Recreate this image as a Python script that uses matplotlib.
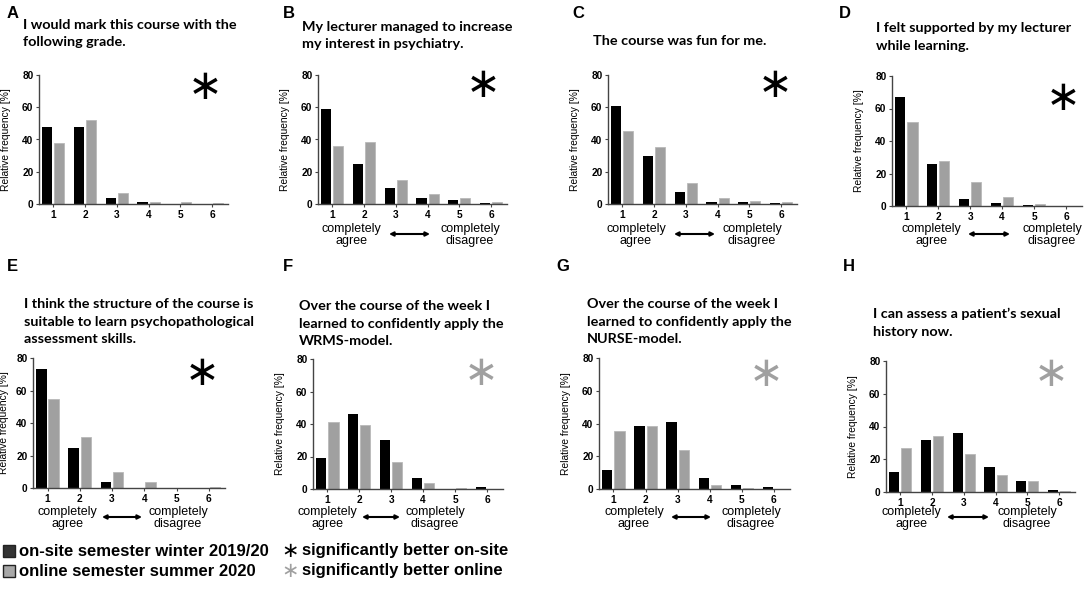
import matplotlib.pyplot as plt
import numpy as np
from matplotlib.patches import Rectangle

# answer categories 1..6
categories = np.arange(1, 7)

letters = ['A', 'B', 'C', 'D', 'E', 'F', 'G', 'H']
titles = [
    'I would mark this course with the\nfollowing grade.',
    'My lecturer managed to increase\nmy interest in psychiatry.',
    'The course was fun for me.',
    'I felt supported by my lecturer\nwhile learning.',
    'I think the structure of the course is\nsuitable to learn psychopathological\nassessment skills.',
    'Over the course of the week I\nlearned to confidently apply the\nWRMS-model.',
    'Over the course of the week I\nlearned to confidently apply the\nNURSE-model.',
    'I can assess a patient\u2019s sexual\nhistory now.',
]

# relative frequency [%], on-site winter 2019/20
onsite_A = [48, 47.5, 4, 1, 0, 0]
onsite_B = [59, 25, 10, 3.5, 2.5, 0.8]
onsite_C = [61, 29.5, 7.5, 1.5, 1.5, 0.8]
onsite_D = [67, 26, 4.5, 2, 0.8, 0]
onsite_E = [73, 24.5, 3.5, 0, 0, 0]
onsite_F = [19, 46, 30, 6.5, 0, 1]
onsite_G = [11.5, 38.5, 41, 7, 2.5, 1]
onsite_H = [12, 32, 36, 15, 6.5, 1]

# relative frequency [%], online summer 2020
online_A = [38, 52, 7, 1.5, 1.5, 0.5]
online_B = [36, 38.5, 15, 6, 4, 1.5]
online_C = [45.5, 35.5, 13, 3.5, 2, 1.5]
online_D = [52, 28, 14.5, 5.5, 1.5, 0]
online_E = [55, 31.5, 10, 3.5, 0, 0.7]
online_F = [41.5, 39.5, 16.5, 3.5, 0.5, 0]
online_G = [35.5, 38.5, 24, 2.5, 0.8, 0]
online_H = [27, 34.5, 23, 10.5, 6.5, 0.7]

onsite = [onsite_A, onsite_B, onsite_C, onsite_D, onsite_E, onsite_F, onsite_G, onsite_H]
online = [online_A, online_B, online_C, online_D, online_E, online_F, online_G, online_H]
better_online = [False, False, False, False, False, True, True, True]
has_scale = [False, True, True, True, True, True, True, True]

legend_labels = ['on-site semester winter 2019/20', 'online semester summer 2020']
star_labels = ['significantly better on-site', 'significantly better online']

BLACK = '#000000'
GRAY = '#a0a0a0'
W, H = 1084, 589

# layout in pixels
axes_box = [(39, 75, 228, 204), (318, 75, 507, 204), (608, 75, 797, 204), (892, 76, 1082, 206),
            (33, 358, 225, 488), (313, 359, 503, 489), (599, 358, 790, 489), (886, 361, 1075, 492)]
title_pos = [(23, 19), (302, 21), (593, 35), (876, 22), (24, 298), (299, 300), (587, 298), (873, 308)]
letter_pos = [(7, 6), (283, 6), (572, 6), (839, 6), (7, 259), (283, 259), (556, 259), (843, 259)]
star_pos = [(205, 87), (483, 85), (775, 85), (1063, 98), (202, 373), (481, 373), (766, 374), (1051, 374)]
scale_pos = [None, (351, 389, 430, 470), (636, 674, 715, 752), (931, 968, 1010, 1052),
             (67, 102, 142, 178), (327, 362, 400, 435), (634, 671, 711, 751), (911, 947, 989, 1027)]


def fx(x):
    return x / W


def fy(y):
    return 1 - y / H


fig = plt.figure(figsize=(W / 100, H / 100), dpi=100)

for i in range(8):
    l, t, r, b = axes_box[i]
    ax = fig.add_axes([fx(l), fy(b), (r - l) / W, (b - t) / H])
    ax.bar(categories - 0.19, onsite[i], 0.32, color=BLACK)
    ax.bar(categories + 0.19, online[i], 0.32, color=GRAY, edgecolor='#b9b9b9', linewidth=0.6)
    ax.set_xlim(0.55, 6.5)
    ax.set_ylim(0, 80)
    ax.set_yticks([0, 20, 40, 60, 80])
    ax.set_xticks(categories)
    for s in ['top', 'right']:
        ax.spines[s].set_visible(False)
    for s in ['left', 'bottom']:
        ax.spines[s].set_color('#444444')
        ax.spines[s].set_linewidth(1.0)
    ax.tick_params(length=2, width=0.8, color='#444444', pad=2)
    for lab in ax.get_xticklabels() + ax.get_yticklabels():
        lab.set_fontfamily('Liberation Sans')
        lab.set_fontweight('bold')
        lab.set_fontsize(7.3)
    ax.set_ylabel('Relative frequency [%]', fontfamily='Liberation Sans', fontsize=7.4)
    ax.yaxis.set_label_coords(-(l - max(l - 28, 9)) / (r - l), 0.5)

    fig.text(fx(title_pos[i][0]), fy(title_pos[i][1]), titles[i], ha='left', va='top',
             fontfamily='Lato', fontweight='bold', fontsize=10.4, linespacing=1.55)
    fig.text(fx(letter_pos[i][0]), fy(letter_pos[i][1]), letters[i], ha='left', va='top',
             fontfamily='Liberation Sans', fontweight='bold', fontsize=12)
    fig.text(fx(star_pos[i][0]), fy(star_pos[i][1]), '\u2217', ha='center', va='center',
             fontfamily='DejaVu Sans', fontsize=30,
             color=GRAY if better_online[i] else BLACK)

    if has_scale[i]:
        xa, x0, x1, xd = scale_pos[i]
        yc = 235 if i < 4 else 518
        fig.text(fx(xa), fy(yc), 'completely\nagree', ha='center', va='center',
                 fontfamily='Liberation Sans', fontsize=9, linespacing=1.1)
        fig.text(fx(xd), fy(yc), 'completely\ndisagree', ha='center', va='center',
                 fontfamily='Liberation Sans', fontsize=9, linespacing=1.1)
        fig.add_artist(plt.Annotation('', xy=(fx(x1), fy(yc - 1)), xytext=(fx(x0), fy(yc - 1)),
                                      xycoords='figure fraction', textcoords='figure fraction',
                                      arrowprops=dict(arrowstyle='<|-|>', color='black', lw=1.5,
                                                      mutation_scale=6, shrinkA=0, shrinkB=0)))

# legend
for k, (fc, ys) in enumerate([('#333333', 551), ('#a8a8a8', 571)]):
    fig.patches.append(Rectangle((fx(3), fy(ys + 6)), 12 / W, 12 / H, transform=fig.transFigure,
                                 facecolor=fc, edgecolor='#222222', linewidth=1.0))
    fig.text(fx(19), fy(ys), legend_labels[k], ha='left', va='center',
             fontfamily='Liberation Sans', fontweight='bold', fontsize=12)
    fig.text(fx(290), fy(ys), '\u2217', ha='center', va='center', fontfamily='DejaVu Sans',
             fontsize=15, color=BLACK if k == 0 else GRAY)
    fig.text(fx(302), fy(ys), star_labels[k], ha='left', va='center',
             fontfamily='Liberation Sans', fontweight='bold', fontsize=12)

fig.savefig('out.png', dpi=100)
